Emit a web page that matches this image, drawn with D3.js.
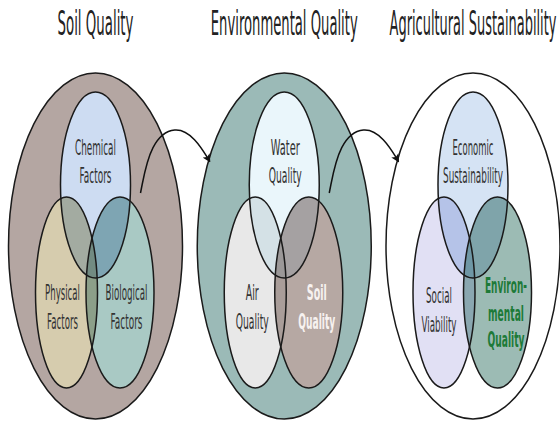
<!DOCTYPE html>
<html><head><meta charset="utf-8">
<script src="https://cdn.jsdelivr.net/npm/d3@7"></script>
<style>html,body{margin:0;padding:0;background:#fff;}svg{display:block;}</style>
</head><body>
<svg id="chart" width="560" height="421"></svg>
<script>
// ---- data ----
const panelTitles = ["Soil Quality", "Environmental Quality", "Agricultural Sustainability"];
const topLabels   = [["Chemical","Factors"], ["Water","Quality"], ["Economic","Sustainability"]];
const leftLabels  = [["Physical","Factors"], ["Air","Quality"], ["Social","Viability"]];
const rightLabels = [["Biological","Factors"], ["Soil","Quality"], ["Environ-","mental","Quality"]];
// fills: outer, top, left, right, top∩left, top∩right, left∩right, all three
const panelColors = [
  ["#b4a6a2","#cddcf2","#d6ccae","#a9c9c4","#a3aba1","#7ea5b3","#8c9f89","#728b82"],
  ["#9bbab7","#eaf6fb","#e8e8e8","#b6a8a3","#d4e1e6","#a5a1a2","#a99d99","#9b9898"],
  ["#ffffff","#d5e3f4","#e1e0f4","#9cbbb4","#b5c3e8","#7fa4aa","#8aa7b0","#6f97a5"]
];

// ---- layout ----
const svg = d3.select("#chart");
const panelX = d3.scalePoint().domain(d3.range(3)).range([95.5, 473]);
const titleWidths = [76, 147, 167];
const stroke = "#1a1a1a";
const geom = {
  outer: {dx: 0, cy: 246, rx: 87, ry: 173},
  top:   {dx: 0, cy: 185, rx: 35, ry: 93},
  left:  {dx: -29, cy: 292.5, rx: 31, ry: 95.5},
  right: {dx: 24.5, cy: 292.5, rx: 34, ry: 95.5}
};
const labelDx = [
  {top: 0, left: -33, right: 31},
  {top: 1, left: -32, right: 32.5},
  {top: 0, left: -34, right: 33}
];
const labelY = {top: [155, 183], left: [300, 329], right: [300, 329]};
const labelWidths = [
  {top:[41,32], left:[35,31], right:[42,32]},
  {top:[29,33], left:[13,33], right:[20,37]},
  {top:[41,60], left:[26,35], right:[42,36,37]}
];
const defs = svg.append("defs");
defs.append("marker").attr("id","arrow").attr("viewBox","0 0 10 10")
  .attr("refX",8).attr("refY",5).attr("markerWidth",5.5).attr("markerHeight",5.5)
  .attr("orient","auto").attr("markerUnits","strokeWidth")
  .append("path").attr("d","M0,0 L10,5 L0,10 L2.5,5 z").attr("fill","#111");

function ell(sel, g, cx) {
  return sel.append("ellipse").attr("cx", cx + g.dx).attr("cy", g.cy).attr("rx", g.rx).attr("ry", g.ry);
}
function fitText(x, y, str, width, size, weight, fill) {
  const t = svg.append("text").attr("text-anchor","middle")
    .attr("font-family","DejaVu Sans").attr("font-size", size).attr("font-weight", weight)
    .attr("fill", fill).text(str);
  const w = t.node().getComputedTextLength();
  t.attr("transform", `translate(${x},${y}) scale(${width / w},1)`);
  return t;
}

panelTitles.forEach((title, i) => {
  const cx = panelX(i);
  const cols = panelColors[i];
  const g = svg.append("g");
  ["top","left","right"].forEach(k => {
    const cp = defs.append("clipPath").attr("id", `c${i}${k}`);
    ell(cp, geom[k], cx);
  });
  ell(g, geom.outer, cx).attr("fill", cols[0]).attr("stroke", stroke).attr("stroke-width", 1.5);
  ell(g, geom.top, cx).attr("fill", cols[1]);
  ell(g, geom.left, cx).attr("fill", cols[2]);
  ell(g, geom.right, cx).attr("fill", cols[3]);
  const pairs = [["top","left",4],["top","right",5],["left","right",6]];
  pairs.forEach(([a,b,ci]) => {
    g.append("g").attr("clip-path", `url(#c${i}${a})`)
      .call(s => ell(s, geom[b], cx).attr("fill", cols[ci]));
  });
  g.append("g").attr("clip-path", `url(#c${i}top)`)
    .append("g").attr("clip-path", `url(#c${i}left)`)
    .call(s => ell(s, geom.right, cx).attr("fill", cols[7]));
  ["top","left","right"].forEach(k => {
    ell(g, geom[k], cx).attr("fill","none").attr("stroke", stroke).attr("stroke-width", 1.5);
  });
  fitText(cx, 35, title, titleWidths[i], 33, "normal", "#222");
  const sets = {top: topLabels[i], left: leftLabels[i], right: rightLabels[i]};
  Object.entries(sets).forEach(([k, lines]) => {
    let ys = labelY[k];
    let fill = "#333", weight = "normal";
    if (i === 1 && k === "right") { fill = "#f7f2f0"; weight = "bold"; }
    if (i === 2 && k === "right") { fill = "#1d7a38"; weight = "bold"; ys = [293, 321, 347]; }
    if (i === 2 && k === "left") { ys = [303, 332]; }
    lines.forEach((line, j) => {
      fitText(cx + labelDx[i][k], ys[j], line, labelWidths[i][k][j], 22, weight, fill);
    });
  });
});

// arrows between panels
const arrowLine = d3.line().curve(d3.curveBasis);
[0,1].forEach(i => {
  const x0 = panelX(i) + 45;
  const pts = [[x0, 193], [x0 + 10, 142], [x0 + 35, 125], [x0 + 55, 138], [x0 + 69, 161]];
  svg.append("path").attr("d", arrowLine(pts)).attr("fill","none")
    .attr("stroke","#111").attr("stroke-width",1.5).attr("marker-end","url(#arrow)");
});
</script>
</body></html>
